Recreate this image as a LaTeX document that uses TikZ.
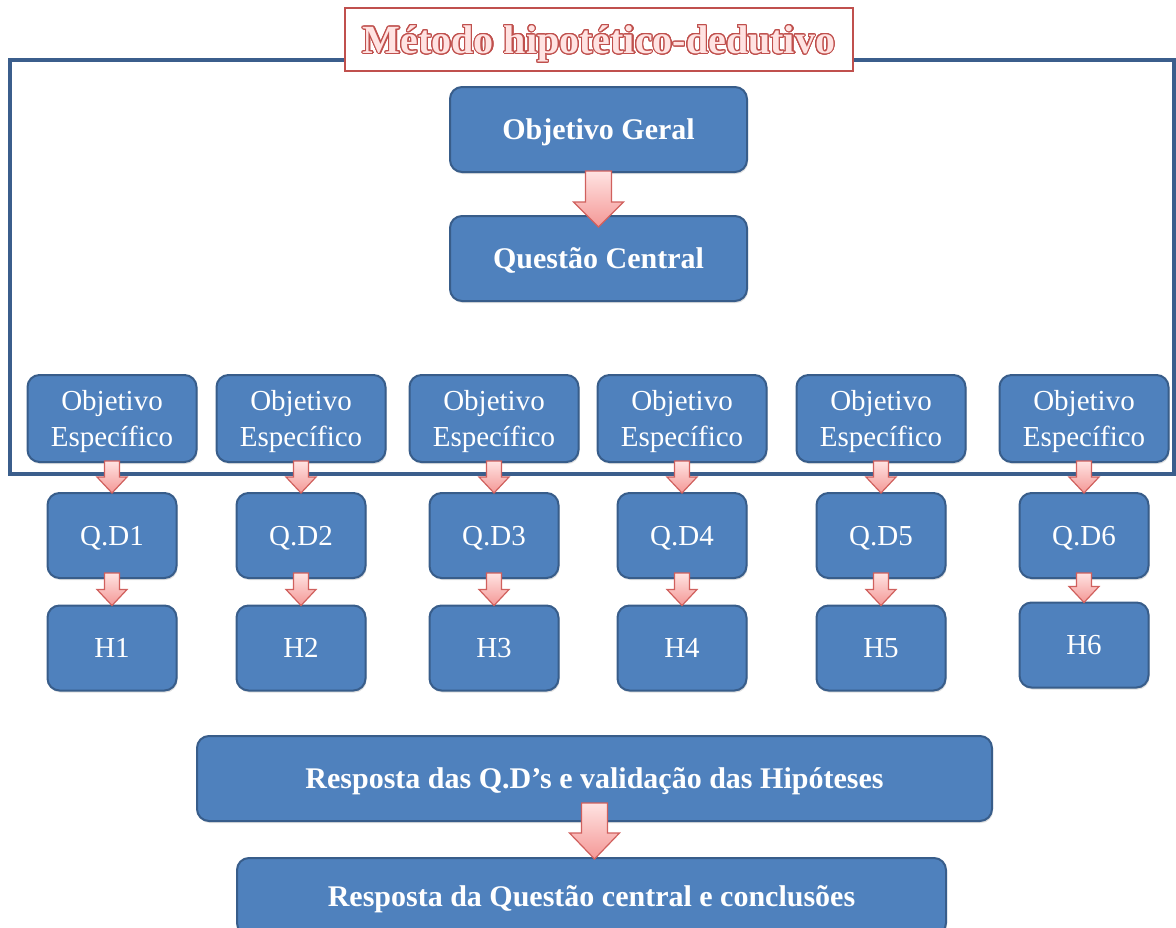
\documentclass[tikz,border=0pt]{standalone}
\usepackage{fontspec}
\setmainfont{Liberation Serif}
\usepackage{contour}
\usetikzlibrary{calc,shadows}

\contourlength{1.1pt}
\contournumber{24}

% fat down arrow: start, tip, half shaft, half head, head length
\newcommand{\blockarrow}[5]{%
  \draw[fatarrow] let \p1=(#1), \p2=(#2) in
    (\x1-#3,\y1) -- (\x1-#3,\y2+#5) -- (\x1-#4,\y2+#5) -- (\x1,\y2)
    -- (\x1+#4,\y2+#5) -- (\x1+#3,\y2+#5) -- (\x1+#3,\y1) -- cycle;}

\begin{document}
\begin{tikzpicture}[x=1pt,y=-1pt,
    box/.style={rounded corners=12pt,fill=boxblue,draw=boxline,line width=2pt,
      text=white,align=center,text depth=0pt,
      drop shadow={opacity=.25,shadow xshift=1pt,shadow yshift=-2pt}},
    bigbox/.style={box,minimum width=297pt,minimum height=85pt,
      font=\fontsize{30}{36}\selectfont\bfseries},
    widebox/.style={box,minimum height=85pt,font=\fontsize{30}{36}\selectfont\bfseries},
    oebox/.style={box,minimum width=169pt,minimum height=87pt,
      font=\fontsize{29}{36}\selectfont},
    smallbox/.style={box,minimum width=129pt,minimum height=85pt,
      font=\fontsize{29}{36}\selectfont},
    fatarrow/.style={draw=arrowline,line width=1.2pt,line join=miter,
      top color=arrowtop,bottom color=arrowbottom}]

    \definecolor{boxblue}{HTML}{4F81BD}
    \definecolor{boxline}{HTML}{385D8A}
    \definecolor{frameline}{HTML}{3B5E8C}
    \definecolor{titlered}{HTML}{C0504D}
    \definecolor{arrowline}{HTML}{D0605D}
    \definecolor{arrowtop}{HTML}{FFE3E2}
    \definecolor{arrowbottom}{HTML}{F49896}

    \useasboundingbox (0,0) rectangle (1176,927);

    % outer frame and title
    \draw[frameline,line width=3.5pt] (10,60) rectangle (1174,474);
    \node[draw=titlered,fill=white,line width=2pt,minimum width=508pt,minimum height=63pt,
      text depth=0pt,font=\fontsize{40}{44}\selectfont\bfseries] (title) at (599,39.5)
      {\contour{titlered}{\textcolor{arrowtop}{Método hipotético-dedutivo}}};

    \node[bigbox] (geral) at (598.5,129.5) {Objetivo Geral};
    \node[bigbox] (central) at (598.5,258.5) {Questão Central};

    \foreach \x/\hy [count=\i] in {112/648,301/648,494/648,682/648,881/648,1084/645} {
        \node[oebox] (oe\i) at (\x,418.5) {Objetivo\\Específico};
        \node[smallbox] (qd\i) at (\x,535.5) {Q.D\i};
        \node[smallbox] (h\i) at (\x,\hy) {H\i};
    }

    \node[widebox,minimum width=795pt] (resposta) at (594.5,778.5)
      {Resposta das Q.D’s e validação das Hipóteses};
    \node[widebox,minimum width=709pt,minimum height=77pt] (conclusao) at (591.5,896.5)
      {Resposta da Questão central e conclusões};

    % arrows
    \blockarrow{$(geral.south)+(0,-2)$}{$(central.north)+(0,12)$}{13pt}{25pt}{25pt}
    \foreach \i in {1,...,6} {
        \blockarrow{$(oe\i.south)+(0,-2)$}{$(qd\i.north)+(0,1)$}{7.5pt}{15pt}{16pt}
        \blockarrow{$(qd\i.south)+(0,-6)$}{$(h\i.north)+(0,1)$}{7.5pt}{15pt}{16pt}
    }
    \blockarrow{$(resposta.south)+(0,-19)$}{$(conclusao.north)+(0,2)$}{13pt}{25pt}{26pt}

\end{tikzpicture}
\end{document}
